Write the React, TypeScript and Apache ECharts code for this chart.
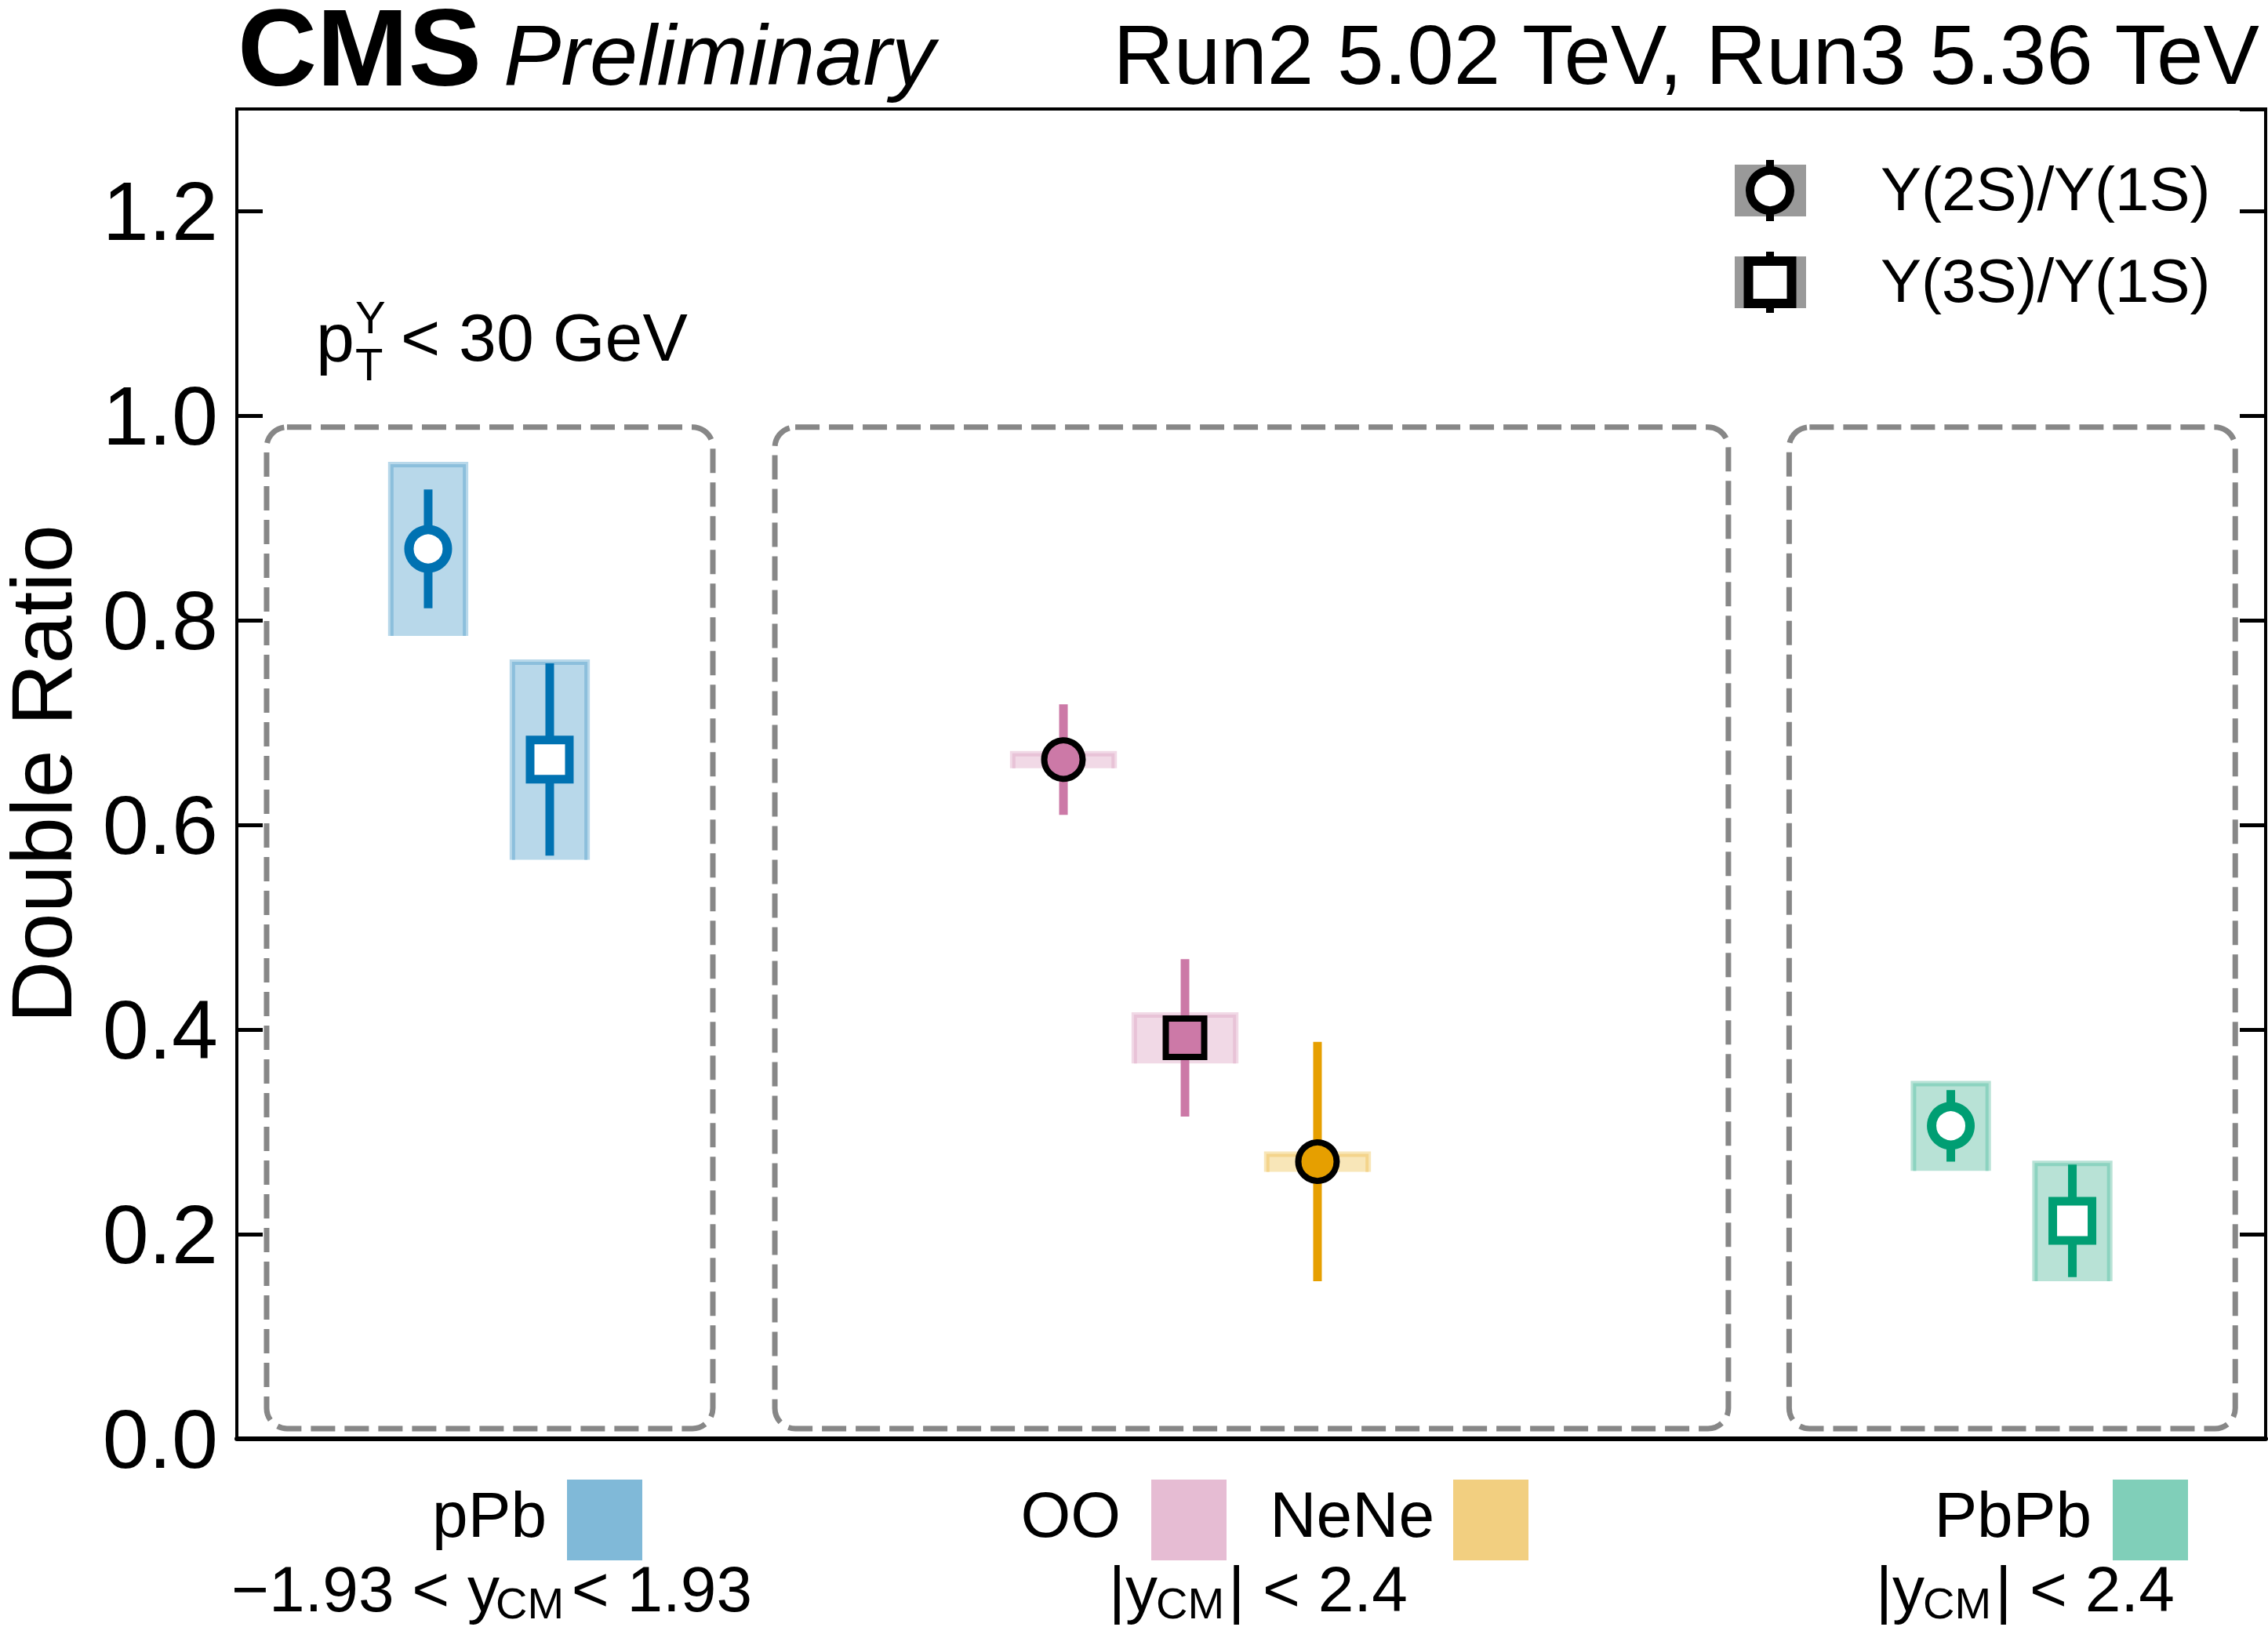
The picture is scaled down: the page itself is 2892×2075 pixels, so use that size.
import React, { useEffect, useRef } from "react";
import * as echarts from "echarts";

const FONT = "'Liberation Sans', Arial, Helvetica, sans-serif";

// ---- data ----
const yTicks = [0, 0.2, 0.4, 0.6, 0.8, 1.0, 1.2];
const systems = ["pPb", "OO", "NeNe", "PbPb"];
const pointSystem = ["pPb", "pPb", "OO", "OO", "NeNe", "PbPb", "PbPb"];
const pointState = ["2S", "3S", "2S", "3S", "2S", "2S", "3S"];
const pointX = [1.574, 2.574, 6.8, 7.8, 8.89, 14.1, 15.1];
const doubleRatio = [0.87, 0.664, 0.664, 0.392, 0.271, 0.306, 0.213];
const statErr = [0.058, 0.094, 0.054, 0.077, 0.117, 0.035, 0.055];
const systErr = [0.085, 0.098, 0.0085, 0.025, 0.01, 0.044, 0.059];
const groupX0 = [0.245, 4.426, 12.77];
const groupX1 = [3.916, 12.27, 16.44];
const groupY0 = [0.01, 0.01, 0.01];
const groupY1 = [0.989, 0.989, 0.989];
const legendLabels = ["Υ(2S)/Υ(1S)", "Υ(3S)/Υ(1S)"];

// ---- styles ----
const STYLE: Record<string, any> = {
  pPb: { color: "#0072B2", open: true, boxFill: "#b8d8ea", boxLine: "#8cbfdc", swatch: "#80b9d8", half: 0.33 },
  OO: { color: "#CC79A7", open: false, boxFill: "#f1d9e6", boxLine: "#e8c3d7", swatch: "#e6bcd3", half: 0.44 },
  NeNe: { color: "#E69F00", open: false, boxFill: "#f8e6b8", boxLine: "#f4d48c", swatch: "#f2cf80", half: 0.44 },
  PbPb: { color: "#009E73", open: true, boxFill: "#b8e2d6", boxLine: "#8cd3c0", swatch: "#80cfb9", half: 0.33 },
};

function txt(text: string, x: number, y: number, size: number, opts: any = {}) {
  return {
    type: "text",
    x,
    y,
    z: 100,
    style: {
      text,
      fontSize: size,
      fontFamily: FONT,
      fontWeight: opts.weight || "normal",
      fontStyle: opts.style || "normal",
      fill: "#000",
      align: opts.align || "left",
      textAlign: opts.align || "left",
      verticalAlign: "middle",
      textVerticalAlign: "middle",
    },
    rotation: opts.rotation || 0,
  };
}

export default function App() {
  const ref = useRef<HTMLDivElement>(null);
  useEffect(() => {
    if (!ref.current) return;
    const chart = echarts.init(ref.current, null, { renderer: "svg" });

    const pointData = pointX.map((x, i) => [x, doubleRatio[i], statErr[i], systErr[i], i]);
    const groupData = groupX0.map((x0, i) => [x0, groupY0[i], groupX1[i], groupY1[i]]);

    const graphics: any[] = [
      txt("CMS", 303, 60, 140, { weight: "bold" }),
      txt("Preliminary", 642, 69, 110, { style: "italic" }),
      txt("Run2 5.02 TeV, Run3 5.36 TeV", 2881, 70, 107, { align: "right" }),
      txt("Double Ratio", 52, 987, 110, { align: "center", rotation: Math.PI / 2 }),
      // pT condition
      txt("p", 403, 430, 88),
      txt("Υ", 453, 404, 58),
      txt("T", 453, 464, 58),
      txt("< 30 GeV", 511, 430, 86),
    ];

    // legend (top right)
    const legRows = [243, 360];
    legendLabels.forEach((lab, k) => {
      const cy = legRows[k];
      graphics.push({ type: "rect", z: 90, shape: { x: 2212, y: cy - 33, width: 91, height: 66 }, style: { fill: "#999999" } });
      graphics.push({ type: "line", z: 91, shape: { x1: 2257, y1: cy - 39, x2: 2257, y2: cy + 39 }, style: { stroke: "#000", lineWidth: 10 } });
      if (k === 0) {
        graphics.push({ type: "circle", z: 92, shape: { cx: 2257, cy, r: 25.5 }, style: { fill: "#fff", stroke: "#000", lineWidth: 11 } });
      } else {
        graphics.push({ type: "rect", z: 92, shape: { x: 2257 - 27.5, y: cy - 27, width: 55, height: 54 }, style: { fill: "#fff", stroke: "#000", lineWidth: 12 } });
      }
      graphics.push(txt(lab, 2398, cy - 2, 78));
    });

    // bottom system labels
    const sysLabelRight: Record<string, number> = { pPb: 697, OO: 1429, NeNe: 1829, PbPb: 2667 };
    const sysSwatchX: Record<string, number> = { pPb: 723, OO: 1468, NeNe: 1853, PbPb: 2694 };
    systems.forEach((s) => {
      graphics.push(txt(s, sysLabelRight[s], 1931, 82, { align: "right" }));
      graphics.push({ type: "rect", z: 90, shape: { x: sysSwatchX[s], y: 1887, width: 96, height: 103 }, style: { fill: STYLE[s].swatch } });
    });
    // rapidity ranges
    graphics.push(txt("\u22121.93 < y", 637, 2026, 82, { align: "right" }));
    graphics.push(txt("CM", 632, 2044, 56));
    graphics.push(txt("< 1.93", 959, 2026, 82, { align: "right" }));
    [[1476, 1566], [2454, 2544]].forEach(([xs, xb]) => {
      graphics.push(txt("|y", xs, 2026, 82, { align: "right" }));
      graphics.push(txt("CM", xs - 2, 2044, 56));
      graphics.push(txt("| < 2.4", xb, 2026, 82));
    });

    const yLabel = (v: number) => {
      return yTicks.some((t) => Math.abs(t - v) < 1e-6) ? v.toFixed(1) : "";
    };

    const option: any = {
      animation: false,
      backgroundColor: "#fff",
      grid: { left: 302, right: 3, top: 139, bottom: 240, show: true, borderColor: "#000", borderWidth: 4 },
      xAxis: {
        type: "value",
        min: 0,
        max: 16.69,
        axisLine: { show: true, onZero: false, lineStyle: { color: "#000", width: 6 } },
        axisTick: { show: false },
        axisLabel: { show: false },
        splitLine: { show: false },
      },
      yAxis: [
        {
          type: "value",
          min: 0,
          max: 1.3,
          interval: 0.2,
          position: "left",
          axisLine: { show: true, lineStyle: { color: "#000", width: 4 } },
          axisTick: { show: true, inside: true, length: 33, lineStyle: { color: "#000", width: 5 } },
          axisLabel: { show: true, fontSize: 106, fontFamily: FONT, color: "#000", margin: 24, formatter: yLabel, showMaxLabel: false },
          splitLine: { show: false },
        },
        {
          type: "value",
          min: 0,
          max: 1.3,
          interval: 0.2,
          position: "right",
          axisLine: { show: true, lineStyle: { color: "#000", width: 4 } },
          axisTick: { show: true, inside: true, length: 33, lineStyle: { color: "#000", width: 5 } },
          axisLabel: { show: false },
          splitLine: { show: false },
        },
      ],
      series: [
        {
          type: "custom",
          name: "groups",
          z: 1,
          data: groupData,
          renderItem: (params: any, api: any) => {
            const p0 = api.coord([api.value(0), api.value(3)]);
            const p1 = api.coord([api.value(2), api.value(1)]);
            return {
              type: "rect",
              shape: { x: p0[0], y: p0[1], width: p1[0] - p0[0], height: p1[1] - p0[1], r: 26 },
              style: { fill: "none", stroke: "#878787", lineWidth: 7, lineDash: [31, 12] },
            };
          },
        },
        {
          type: "custom",
          name: "double ratio",
          z: 5,
          data: pointData,
          renderItem: (params: any, api: any) => {
            const i = api.value(4);
            const st = STYLE[pointSystem[i]];
            const x = api.value(0), y = api.value(1), se = api.value(2), sy = api.value(3);
            const c = api.coord([x, y]);
            const b0 = api.coord([x - st.half, y + sy]);
            const b1 = api.coord([x + st.half, y - sy]);
            const sTop = api.coord([x, y + se]);
            const sBot = api.coord([x, y - se]);
            const d = 5;
            const children: any[] = [
              { type: "rect", shape: { x: b0[0], y: b0[1], width: b1[0] - b0[0], height: b1[1] - b0[1] }, style: { fill: st.boxFill } },
              {
                type: "polyline",
                shape: { points: [[b0[0] + d, b1[1]], [b0[0] + d, b0[1] + d], [b1[0] - d, b0[1] + d], [b1[0] - d, b1[1]]] },
                style: { fill: "none", stroke: st.boxLine, lineWidth: 4 },
              },
              { type: "line", shape: { x1: c[0], y1: sTop[1], x2: c[0], y2: sBot[1] }, style: { stroke: st.color, lineWidth: 11 } },
            ];
            const is2S = pointState[i] === "2S";
            if (is2S) {
              children.push(
                st.open
                  ? { type: "circle", shape: { cx: c[0], cy: c[1], r: 24.5 }, style: { fill: "#fff", stroke: st.color, lineWidth: 12 } }
                  : { type: "circle", shape: { cx: c[0], cy: c[1], r: 24.5 }, style: { fill: st.color, stroke: "#000", lineWidth: 8 } }
              );
            } else {
              const h = st.open ? 25 : 24.5;
              children.push(
                st.open
                  ? { type: "rect", shape: { x: c[0] - h, y: c[1] - h, width: 2 * h, height: 2 * h }, style: { fill: "#fff", stroke: st.color, lineWidth: 11 } }
                  : { type: "rect", shape: { x: c[0] - h, y: c[1] - h, width: 2 * h, height: 2 * h }, style: { fill: st.color, stroke: "#000", lineWidth: 8 } }
              );
            }
            return { type: "group", children };
          },
        },
      ],
      graphic: graphics,
    };
    chart.setOption(option);
    return () => chart.dispose();
  }, []);
  return <div ref={ref} style={{ position: "absolute", left: 0, top: 0, width: 2892, height: 2075 }} />;
}
